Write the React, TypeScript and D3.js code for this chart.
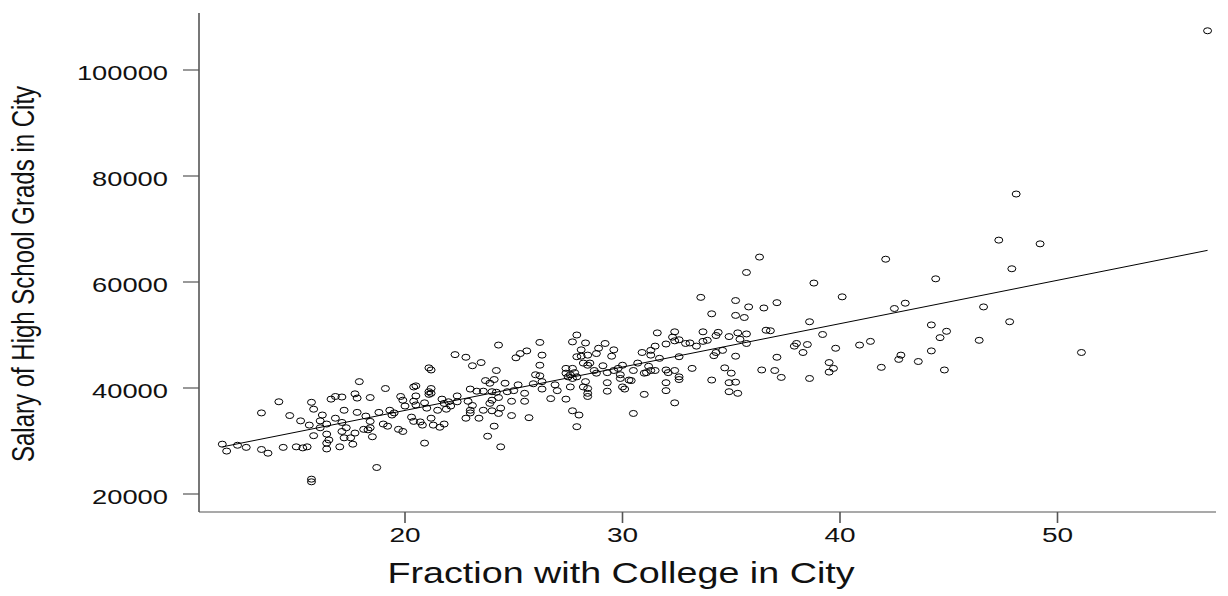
import React, { useEffect, useRef } from 'react';
import * as d3 from 'd3';

const xTicks = [20, 30, 40, 50];
const yTicks = [20000, 40000, 60000, 80000, 100000];
const xTitle = 'Fraction with College in City';
const yTitle = 'Salary of High School Grads in City';

// fitted line: salary = intercept + slope * college
const fitIntercept = 19400;
const fitSlope = 818.5;

// [fraction with college (%), salary of HS grads] per city
const lowCollege: [number, number][] = [
  [17.9, 41200], [14.2, 37400], [13.4, 35300], [15.7, 37300], [15.8, 36000], [16.6, 37900],
  [16.8, 38400], [17.1, 38300], [17.7, 38900], [17.8, 38100], [18.4, 38200], [14.7, 34800],
  [15.2, 33800], [15.6, 33000], [16.1, 33800], [16.2, 34900], [16.1, 32500], [16.4, 33200],
  [16.8, 34300], [17.1, 33500], [17.2, 35800], [17.8, 35400], [18.2, 34700], [18.4, 33700],
  [18.8, 35400], [17.3, 32500], [17.1, 31800], [15.8, 31000], [16.4, 31300], [16.5, 30200],
  [16.4, 29600], [16.4, 28500], [17.2, 30600], [17.5, 30600], [17.7, 31500], [18.1, 32200],
  [18.4, 32500], [18.5, 30800], [17.6, 29400], [17.0, 28900], [18.3, 32100], [11.6, 29400],
  [11.8, 28100], [12.3, 29200], [12.7, 28800], [13.4, 28400], [13.7, 27700], [14.4, 28800],
  [15.0, 28900], [15.3, 28700], [15.5, 28900], [18.7, 25000], [15.7, 22800], [15.7, 22300],
];

const midLowCollege: [number, number][] = [
  [24.3, 48100], [26.2, 48600], [22.3, 46300], [22.8, 45800], [23.1, 44200], [23.5, 44800],
  [25.1, 45700], [25.3, 46500], [25.6, 47000], [26.3, 46200], [26.2, 44300], [21.1, 43800],
  [21.2, 43400], [24.2, 43300], [26.0, 42500], [26.2, 42300], [23.7, 41400], [24.1, 41600],
  [24.6, 40900], [23.9, 40900], [25.2, 40600], [25.9, 40800], [26.3, 41200], [26.3, 39800],
  [20.4, 40200], [20.5, 40400], [21.2, 39900], [19.1, 39900], [21.1, 39300], [21.1, 38800],
  [21.2, 39000], [19.8, 38400], [19.9, 37700], [20.4, 37500], [20.5, 38500], [20.9, 37200],
  [21.7, 37900], [21.8, 37100], [22.0, 37400], [22.4, 38500], [22.4, 37400], [22.9, 37500],
  [23.0, 39800], [23.3, 39400], [23.6, 39400], [24.0, 39300], [24.2, 39200], [24.0, 37700],
  [24.3, 38200], [24.7, 39300], [25.0, 39500], [25.5, 39000], [24.9, 37500], [25.5, 37500],
  [23.9, 37100], [23.6, 35800], [24.0, 35700], [24.3, 35200], [24.4, 36200], [24.9, 34800],
  [25.7, 34400], [23.1, 36700], [23.0, 35800], [23.0, 35300], [22.8, 34300], [23.4, 34300],
  [24.1, 32800], [23.8, 30900], [24.4, 28900], [20.9, 29600], [21.9, 36000], [22.1, 36600],
  [21.0, 36200], [21.5, 35800], [20.5, 36800], [19.3, 35800], [19.4, 34900], [19.5, 35300],
  [20.3, 34500], [20.4, 33700], [20.7, 33600], [21.2, 34300], [21.3, 33000], [21.6, 32600],
  [21.8, 33200], [20.8, 33000], [19.0, 33200], [19.2, 32800], [19.7, 32200], [19.9, 31800],
  [20.0, 36600],
];

const midHighCollege: [number, number][] = [
  [26.9, 40600], [27.0, 39500], [26.7, 38000], [27.4, 37900], [27.9, 50000], [27.7, 48700],
  [28.3, 48500], [29.2, 48400], [28.9, 47500], [28.8, 46500], [29.6, 47200], [29.5, 46000],
  [28.1, 47200], [27.9, 45900], [28.1, 46000], [28.4, 46200], [28.2, 44700], [28.4, 44300],
  [28.5, 44700], [27.4, 43700], [27.7, 43700], [27.4, 42800], [27.6, 42500], [27.8, 42900],
  [27.7, 41800], [27.9, 42100], [27.5, 42100], [28.3, 41200], [28.2, 40200], [28.4, 39900],
  [28.4, 39000], [28.4, 38400], [27.6, 40200], [27.7, 35700], [28.0, 34900], [27.9, 32700],
  [30.5, 35200], [28.7, 43300], [29.1, 44200], [28.8, 42800], [29.3, 42900], [29.6, 43300],
  [29.8, 43700], [30.0, 44300], [29.9, 42500], [29.9, 41800], [29.3, 41000], [29.3, 39400],
  [30.0, 40200], [30.1, 39800], [30.3, 41500], [30.4, 41400], [30.5, 43300], [30.7, 44700],
  [31.0, 42800], [31.1, 42900], [31.3, 43300], [31.5, 43300], [31.2, 44100], [30.9, 46700],
  [31.3, 47100], [31.3, 46200], [31.7, 45600], [31.0, 38800], [31.6, 50400], [32.3, 49600],
  [32.4, 50600], [32.6, 49100], [32.4, 48900], [32.0, 48300], [31.5, 47900], [32.6, 45900],
  [32.0, 43400], [32.1, 42900], [32.4, 43300], [32.6, 42100], [32.6, 41600], [32.0, 41000],
  [32.0, 39500], [32.4, 37200], [33.2, 43700], [33.7, 50600], [34.3, 49900], [32.9, 48400],
  [33.1, 48500], [33.4, 47900], [33.7, 48800], [33.9, 49000], [34.2, 46100], [34.3, 46700],
  [34.1, 41500], [33.6, 57100],
];

const highCollege: [number, number][] = [
  [36.3, 64700], [35.7, 61800], [38.8, 59800], [42.1, 64300], [40.1, 57200], [35.2, 56500],
  [35.8, 55300], [36.5, 55100], [37.1, 56100], [34.1, 54000], [35.2, 53700], [35.6, 53300],
  [38.6, 52500], [42.5, 55000], [34.4, 50500], [34.9, 49700], [35.3, 50400], [35.7, 50200],
  [35.4, 49200], [35.7, 48400], [36.6, 50900], [36.8, 50800], [39.2, 50100], [34.6, 47100],
  [35.2, 46000], [38.0, 48400], [37.9, 47900], [38.5, 48200], [38.3, 46700], [39.8, 47500],
  [40.9, 48100], [41.4, 48800], [37.1, 45800], [34.7, 43800], [35.0, 42800], [34.9, 41000],
  [35.2, 41100], [34.9, 39300], [35.3, 39000], [36.4, 43400], [37.0, 43300], [37.3, 42000],
  [38.6, 41800], [39.5, 44800], [39.7, 43700], [39.5, 43000], [41.9, 43900],
  [47.3, 67900], [49.2, 67200], [47.9, 62500], [44.4, 60600], [43.0, 56000], [46.6, 55300],
  [44.2, 51900], [44.9, 50700], [44.6, 49500], [47.8, 52500], [46.4, 49000], [44.2, 47000],
  [42.8, 46200], [42.7, 45400], [43.6, 45000], [44.8, 43400], [51.1, 46700], [56.9, 107400],
  [48.1, 76600],
];

const App = () => {
  const svgRef = useRef<SVGSVGElement>(null);

  useEffect(() => {
    if (!svgRef.current) return;
    const width = 1228;
    const height = 596;
    const svg = d3.select(svgRef.current);
    svg.selectAll('*').remove();
    svg.attr('width', width).attr('height', height);

    svg.append('rect').attr('width', width).attr('height', height).attr('fill', '#fff');

    const x = d3.scaleLinear().domain([20, 50]).range([405, 1057.5]);
    const y = d3.scaleLinear().domain([20000, 100000]).range([494, 70]);

    const font = "'Liberation Sans', Arial, Helvetica, sans-serif";
    const axisColor = '#555';
    const textColor = '#111';
    const stretch = 1.4; // the original is wider than tall

    const plotLeft = 199;
    const plotTop = 13;
    const plotBottom = 512;
    const plotRight = 1216;

    // axes
    svg.append('line')
      .attr('x1', plotLeft).attr('x2', plotLeft)
      .attr('y1', plotTop).attr('y2', plotBottom)
      .attr('stroke', axisColor).attr('stroke-width', 1.6);
    svg.append('line')
      .attr('x1', plotLeft).attr('x2', plotRight)
      .attr('y1', plotBottom).attr('y2', plotBottom)
      .attr('stroke', axisColor).attr('stroke-width', 1.2);

    // y ticks + labels
    yTicks.forEach(t => {
      svg.append('line')
        .attr('x1', plotLeft - 16).attr('x2', plotLeft)
        .attr('y1', y(t)).attr('y2', y(t))
        .attr('stroke', axisColor).attr('stroke-width', 1.2);
      svg.append('g')
        .attr('transform', `translate(168, ${y(t) + 9.5}) scale(${stretch}, 1)`)
        .append('text')
        .attr('text-anchor', 'end')
        .attr('font-family', font)
        .attr('font-size', 19.5)
        .attr('fill', textColor)
        .text(t);
    });

    // x ticks + labels
    xTicks.forEach(t => {
      svg.append('line')
        .attr('x1', x(t)).attr('x2', x(t))
        .attr('y1', plotBottom).attr('y2', plotBottom + 11)
        .attr('stroke', axisColor).attr('stroke-width', 1.6);
      svg.append('g')
        .attr('transform', `translate(${x(t)}, 542) scale(${stretch}, 1)`)
        .append('text')
        .attr('text-anchor', 'middle')
        .attr('font-family', font)
        .attr('font-size', 20)
        .attr('fill', textColor)
        .text(t);
    });

    // axis titles
    svg.append('g')
      .attr('transform', `translate(621, 583) scale(1.3, 1)`)
      .append('text')
      .attr('text-anchor', 'middle')
      .attr('font-family', font)
      .attr('font-size', 29)
      .attr('fill', textColor)
      .text(xTitle);

    svg.append('g')
      .attr('transform', `translate(34, 274) scale(1.3, 1) rotate(-90)`)
      .append('text')
      .attr('text-anchor', 'middle')
      .attr('font-family', font)
      .attr('font-size', 24)
      .attr('fill', textColor)
      .text(yTitle);

    const points = [...lowCollege, ...midLowCollege, ...midHighCollege, ...highCollege];

    // fitted line over the data range
    const [xMin, xMax] = d3.extent(points, d => d[0]) as [number, number];
    const line = d3.line<number>()
      .x(d => x(d))
      .y(d => y(fitIntercept + fitSlope * d));
    svg.append('path')
      .attr('d', line([xMin, xMax]))
      .attr('fill', 'none')
      .attr('stroke', '#000')
      .attr('stroke-width', 1);

    // hollow markers
    svg.append('g')
      .selectAll('ellipse')
      .data(points)
      .enter()
      .append('ellipse')
      .attr('cx', d => x(d[0]))
      .attr('cy', d => y(d[1]))
      .attr('rx', 4)
      .attr('ry', 3)
      .attr('fill', 'none')
      .attr('stroke', '#000')
      .attr('stroke-width', 1);
  }, []);

  return (
    <svg
      ref={svgRef}
      style={{ position: 'absolute', left: 0, top: 0, display: 'block' }}
    />
  );
};

export default App;
